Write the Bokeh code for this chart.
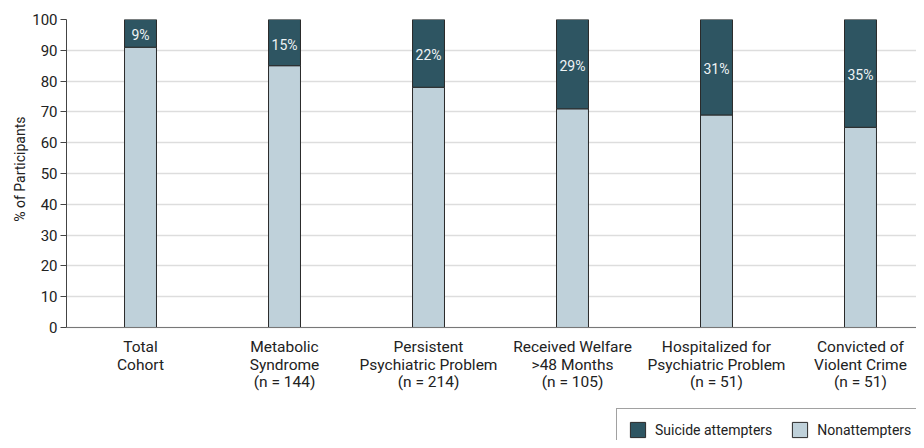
from bokeh.plotting import figure
from bokeh.models import ColumnDataSource, FixedTicker, Legend, LegendItem, Range1d, Title
from bokeh.core.properties import value
from bokeh.embed import file_html
from bokeh.resources import INLINE

categories = ["Total\nCohort", "Metabolic\nSyndrome\n(n = 144)", "Persistent\nPsychiatric Problem\n(n = 214)",
              "Received Welfare\n>48 Months\n(n = 105)", "Hospitalized for\nPsychiatric Problem\n(n = 51)",
              "Convicted of\nViolent Crime\n(n = 51)"]
attempters = [9, 15, 22, 29, 31, 35]
nonattempters = [100 - a for a in attempters]
pct_labels = [f"{a}%" for a in attempters]
y_ticks = list(range(0, 101, 10))

FONT = "Roboto"
DARK = "#2e5562"
LIGHT = "#bfd1da"

xs = list(range(len(categories)))
src = ColumnDataSource(dict(
    x=xs,
    non_top=nonattempters,
    att_top=[n + a for n, a in zip(nonattempters, attempters)],
    att_mid=[n + a / 2 for n, a in zip(nonattempters, attempters)],
    label=pct_labels,
))

p = figure(width=916, height=440, output_backend="svg", toolbar_location=None,
           x_range=Range1d(-0.514, 5.389), y_range=Range1d(-36.7, 100),
           min_border_left=66, min_border_right=0, min_border_top=19, min_border_bottom=0)
p.outline_line_color = None

r_non = p.vbar(x="x", width=0.222, bottom=0, top="non_top", source=src,
               fill_color=LIGHT, line_color="#2a2a2a", line_width=1)
r_att = p.vbar(x="x", width=0.222, bottom="non_top", top="att_top", source=src,
               fill_color=DARK, line_color="#2a2a2a", line_width=1)
p.text(x="x", y="att_mid", text="label", source=src, text_align="center",
       text_baseline="middle", text_color="#eef3f5", text_font_size="14px",
       text_font=value(FONT), y_offset=2)

# axes
p.xaxis.fixed_location = 0
p.xaxis.ticker = FixedTicker(ticks=xs)
p.xaxis.major_label_overrides = {i: c for i, c in enumerate(categories)}
p.xaxis.major_tick_line_color = None
p.xaxis.minor_tick_line_color = None
p.xaxis.axis_line_color = "#777777"
p.xaxis.major_label_text_font = FONT
p.xaxis.major_label_text_font_size = "15.5px"
p.xaxis.major_label_text_color = "#222222"
p.xaxis.major_label_text_line_height = 0.95
p.xaxis.major_label_standoff = 5

p.yaxis.ticker = FixedTicker(ticks=y_ticks)
p.yaxis.bounds = (0, 100)
p.yaxis.minor_tick_line_color = None
p.yaxis.major_tick_in = 0
p.yaxis.major_tick_out = 6
p.yaxis.axis_line_color = "#444444"
p.yaxis.major_tick_line_color = "#444444"
p.yaxis.major_label_text_font = FONT
p.yaxis.major_label_text_font_size = "15px"
p.yaxis.major_label_text_color = "#222222"
p.yaxis.major_label_standoff = 3

# y-axis title centred on the 0-100 span
ytitle = Title(text="% of Participants", align="right", offset=97, standoff=2,
               text_font=FONT, text_font_size="14px", text_font_style="normal",
               text_color="#222222", vertical_align="middle")
p.add_layout(ytitle, "left")

p.xgrid.grid_line_color = None
p.ygrid.grid_line_color = "#dddddd"
p.ygrid.grid_line_width = 1.5

legend = Legend(items=[LegendItem(label="Suicide attempters", renderers=[r_att]),
                       LegendItem(label="Nonattempters", renderers=[r_non])],
                orientation="horizontal", location=(550, -11),
                glyph_width=19, glyph_height=19, label_standoff=8, spacing=18,
                padding=11, margin=0, border_line_color="#444444", border_line_width=1,
                label_text_font=FONT, label_text_font_size="14px", label_text_color="#222222",
                background_fill_alpha=1)
p.add_layout(legend, "center")

open("out.html", "w").write(file_html(p, INLINE))
